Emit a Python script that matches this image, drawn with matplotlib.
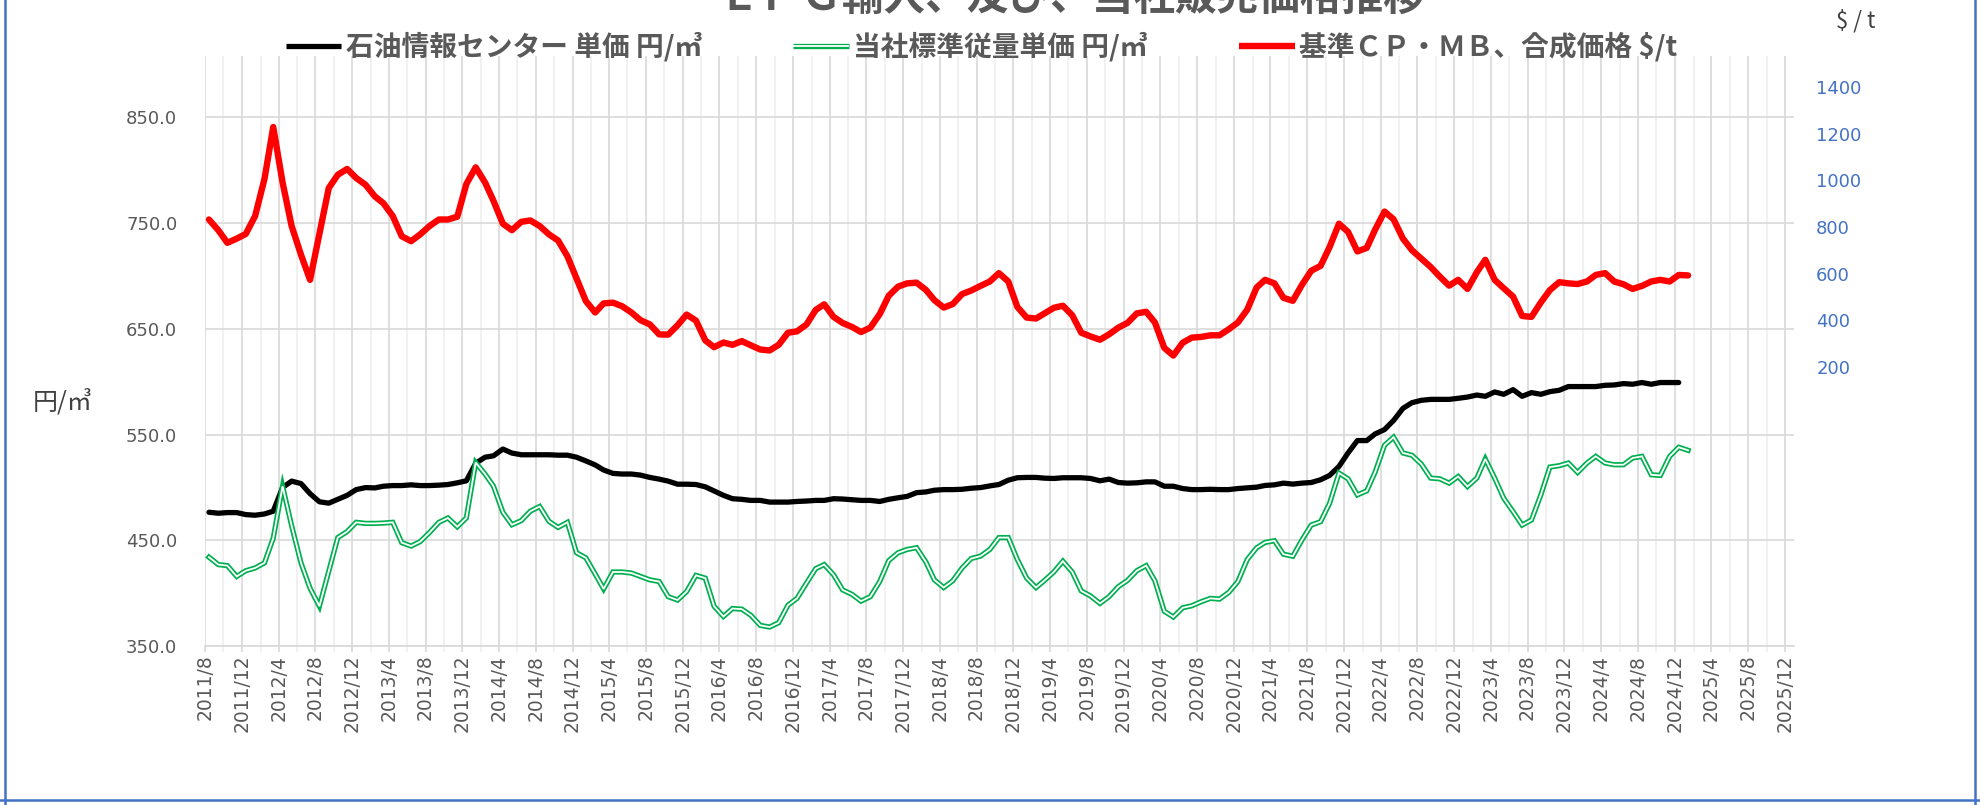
import datetime as dt

import matplotlib
matplotlib.use('Agg')
import matplotlib.pyplot as plt
import matplotlib.dates as mdates
import numpy as np
import pandas as pd
from matplotlib.lines import Line2D
from matplotlib.legend_handler import HandlerTuple
from matplotlib.ticker import FixedLocator, FuncFormatter

plt.rcParams['font.family'] = ['Noto Sans CJK JP', 'DejaVu Sans']

# monthly series, first point 2011/8
start_month = '2011-08-01'

# 石油情報センター 単価 円/m3 (2011/8 - 2024/12)
center_price = [
    476.6, 475.7, 476.3, 476.3, 474.4, 473.8, 475.0, 477.6, 500.0, 506.0,
    503.7, 494.2, 486.5, 485.2, 488.8, 492.6, 498.0, 499.9, 499.6, 501.2,
    501.8, 501.8, 502.5, 501.8, 501.8, 502.2, 502.8, 504.4, 506.3, 522.9,
    528.6, 529.9, 536.3, 532.5, 530.9, 530.9, 530.9, 530.9, 530.5, 530.5,
    528.6, 525.1, 521.3, 516.5, 513.3, 512.7, 512.7, 511.7, 509.5, 507.9,
    506.0, 503.1, 503.1, 502.8, 500.6, 496.7, 492.6, 489.4, 488.8, 487.8,
    487.8, 486.2, 486.2, 486.2, 486.8, 487.2, 487.8, 487.8, 489.4, 489.1,
    488.4, 487.8, 487.8, 486.8, 488.8, 490.3, 491.6, 495.1, 495.8, 497.4,
    498.0, 498.0, 498.3, 499.3, 499.9, 501.5, 502.8, 506.9, 509.2, 509.5,
    509.5, 508.8, 508.5, 509.2, 509.2, 509.2, 508.5, 506.3, 507.9, 504.7,
    504.1, 504.4, 505.3, 505.3, 501.2, 501.2, 499.0, 498.0, 498.0, 498.3,
    498.0, 498.0, 499.0, 499.7, 500.3, 501.9, 502.5, 504.1, 503.2, 504.1,
    504.7, 507.3, 511.4, 519.9, 532.6, 544.3, 544.3, 550.6, 554.7, 563.3,
    574.7, 580.1, 582.3, 583.2, 583.2, 583.2, 584.2, 585.4, 587.3, 586.1,
    590.2, 588.0, 592.4, 586.1, 589.6, 588.0, 590.5, 591.8, 595.3, 595.3,
    595.3, 595.3, 596.5, 596.8, 598.1, 597.5, 599.1, 597.5, 599.1, 599.1,
    599.1,
]

# 当社標準従量単価 円/m3 (2011/8 - 2025/1)
company_price = [
    434.2, 427.2, 426.2, 416.0, 421.4, 424.0, 428.8, 452.1, 501.2, 463.9,
    428.8, 404.9, 387.9, 420.8, 452.7, 458.4, 467.1, 466.1, 466.1, 466.4,
    467.1, 447.9, 444.7, 448.9, 457.5, 467.1, 471.2, 462.9, 471.2, 523.5,
    512.7, 501.2, 476.6, 464.8, 468.7, 477.6, 482.1, 468.0, 462.3, 467.1,
    438.4, 433.6, 418.3, 404.2, 420.2, 420.2, 419.2, 416.0, 412.8, 411.2,
    396.9, 393.7, 401.7, 417.0, 414.4, 387.9, 378.2, 385.7, 385.1, 379.3,
    369.8, 368.2, 372.3, 388.9, 395.3, 409.6, 423.4, 427.2, 417.6, 403.3,
    399.1, 392.7, 396.9, 411.2, 431.0, 438.4, 441.5, 443.1, 429.7, 412.8,
    405.5, 411.9, 424.0, 432.9, 435.2, 441.5, 452.7, 452.7, 432.0, 414.4,
    405.5, 412.2, 420.2, 430.4, 420.2, 402.3, 397.5, 390.5, 396.9, 406.4,
    412.2, 421.4, 426.2, 411.9, 383.2, 377.7, 386.4, 388.3, 392.1, 395.3,
    394.6, 401.0, 411.2, 432.0, 443.0, 448.1, 449.7, 437.0, 435.1, 450.3,
    464.5, 467.7, 485.1, 513.6, 508.2, 493.0, 496.8, 514.6, 539.9, 547.5,
    532.6, 530.4, 522.1, 508.9, 508.2, 504.1, 510.4, 500.9, 508.9, 526.9,
    508.9, 489.9, 477.2, 464.5, 469.3, 493.0, 519.3, 520.6, 523.1, 514.2,
    523.1, 529.4, 523.1, 521.5, 521.5, 527.8, 529.4, 512.0, 511.4, 529.4,
    538.0, 535.1,
]

# 基準CP・MB、合成価格 $/t (2011/8 - 2025/1)
cp_price = [
    832, 786, 732, 750, 770, 847, 1006, 1229, 991, 804,
    681, 573, 770, 967, 1024, 1049, 1010, 981, 931, 902,
    847, 760, 739, 768, 804, 832, 832, 844, 984, 1056,
    991, 912, 814, 786, 822, 828, 804, 768, 742, 674,
    580, 482, 433, 472, 475, 460, 433, 400, 382, 339,
    338, 378, 424, 398, 313, 284, 304, 294, 310, 292,
    274, 270, 294, 346, 352, 381, 444, 468, 414, 388,
    371, 349, 368, 426, 505, 544, 558, 561, 530, 486,
    454, 469, 512, 527, 547, 566, 602, 566, 457, 411,
    407, 429, 453, 462, 421, 346, 330, 316, 339, 368,
    388, 429, 436, 390, 281, 248, 303, 325, 328, 335,
    335, 361, 390, 445, 540, 573, 558, 496, 483, 551,
    612, 633, 714, 814, 779, 695, 710, 789, 866, 833,
    750, 700, 664, 628, 587, 548, 573, 534, 606, 659,
    573, 537, 501, 418, 414, 476, 529, 563, 558, 555,
    566, 594, 602, 566, 554, 534, 547, 566, 573, 566,
    594, 592,
]

labels = ['石油情報センター 単価 円/㎥', '当社標準従量単価 円/㎥', '基準ＣＰ・ＭＢ、合成価格 $/t']
title = 'ＬＰＧ輸入、及び、当社販売価格推移'
left_ticks = [350, 450, 550, 650, 750, 850]
right_ticks = [200, 400, 600, 800, 1000, 1200, 1400]

# points sit mid-month on a date axis
dates = pd.date_range(start_month, periods=len(company_price), freq='MS') + pd.Timedelta(days=13)

GRAY = '#595959'
BLUE = '#4472C4'
GREEN = '#00B050'

fig = plt.figure(figsize=(19.81, 8.05), dpi=100)
ax = fig.add_axes([0.1035, 0.1971, 0.8021, 0.7334])

ax.plot(dates[:len(center_price)], center_price, color='black', lw=3.8,
        solid_capstyle='round', solid_joinstyle='round', zorder=3)
ax.plot(dates, company_price, color=GREEN, lw=3.8, solid_joinstyle='miter', zorder=4)
ax.plot(dates, company_price, color='white', lw=1.3, solid_joinstyle='miter', zorder=5)

ax.set_ylim(350, 907.5)
ax.set_xlim(dt.datetime(2011, 8, 1), dt.datetime(2025, 12, 31))
ax.set_yticks(left_ticks)
ax.yaxis.set_major_formatter(FuncFormatter(lambda v, p: f'{v:.1f}'))

ax.xaxis.set_major_locator(mdates.MonthLocator(bymonth=[4, 8, 12]))
ax.xaxis.set_minor_locator(mdates.MonthLocator(bymonth=[2, 6, 10]))
ax.xaxis.set_major_formatter(FuncFormatter(
    lambda v, p: f'{mdates.num2date(v).year}/{mdates.num2date(v).month}'))

ax.grid(which='major', axis='both', color='#d9d9d9', lw=1.2, zorder=0)
ax.grid(which='minor', axis='x', color='#efefef', lw=1.2, zorder=0)
ax.set_axisbelow(True)
for s in ['top', 'left', 'right']:
    ax.spines[s].set_visible(False)
ax.spines['bottom'].set_color('#d9d9d9')
ax.spines['bottom'].set_linewidth(1.2)

ax.tick_params(axis='y', length=0, pad=20, labelsize=13, labelcolor=GRAY)
ax.tick_params(axis='x', which='major', length=4, color='#d9d9d9', width=1.2,
               pad=2, labelsize=13.5, labelcolor=GRAY, labelrotation=90)
ax.tick_params(axis='x', which='minor', length=4, color='#efefef', width=1.2)
for t in ax.get_xticklabels() + ax.get_yticklabels():
    t.set_family('DejaVu Sans')

ax2 = ax.twinx()
ax2.plot(dates, cp_price, color='#FF0000', lw=4.6, solid_capstyle='round',
         solid_joinstyle='round', zorder=6)
ax2.set_ylim(-1000, 1534)
ax2.yaxis.set_major_locator(FixedLocator(right_ticks))
ax2.tick_params(axis='y', length=0, pad=16, labelsize=13, labelcolor=BLUE)
for t in ax2.get_yticklabels():
    t.set_family('DejaVu Sans')
for s in ax2.spines.values():
    s.set_visible(False)

# legend on top
h_black = Line2D([], [], color='black', lw=3.8, solid_capstyle='butt')
h_green = (Line2D([], [], color=GREEN, lw=3.8, solid_capstyle='butt'),
           Line2D([], [], color='white', lw=1.3, solid_capstyle='butt'))
h_red = Line2D([], [], color='#FF0000', lw=4.6, solid_capstyle='butt')
fig.legend([h_black, h_green, h_red], labels, loc='center',
           bbox_to_anchor=(0.4955, 1 - 47 / 805), ncol=3, frameon=False,
           prop={'family': ['Noto Sans CJK JP', 'DejaVu Sans'], 'weight': 'bold', 'size': 20},
           labelcolor=GRAY, handlelength=2.0, handletextpad=0.15, columnspacing=3.3,
           handler_map={tuple: HandlerTuple(ndivide=1, pad=0)})

fig.text(0.5406, 1 - 10 / 805, title, ha='center', va='baseline', fontsize=30,
         fontweight='bold', color=GRAY)
fig.text(1856 / 1981, 1 - 21 / 805, '$ / t', ha='center', va='center', fontsize=16,
         color='#404040')
fig.text(63 / 1981, 1 - 402 / 805, '円/㎥', ha='center', va='center', fontsize=18,
         color='#404040')

# chart border
for xs, ys in [([5 / 1981, 5 / 1981], [0, 1]),
               ([1975 / 1981, 1975 / 1981], [0, 1]),
               ([0, 1], [5 / 805, 5 / 805])]:
    fig.add_artist(Line2D(xs, ys, color=BLUE, lw=1.8))

fig.savefig('out.png', dpi=100)
